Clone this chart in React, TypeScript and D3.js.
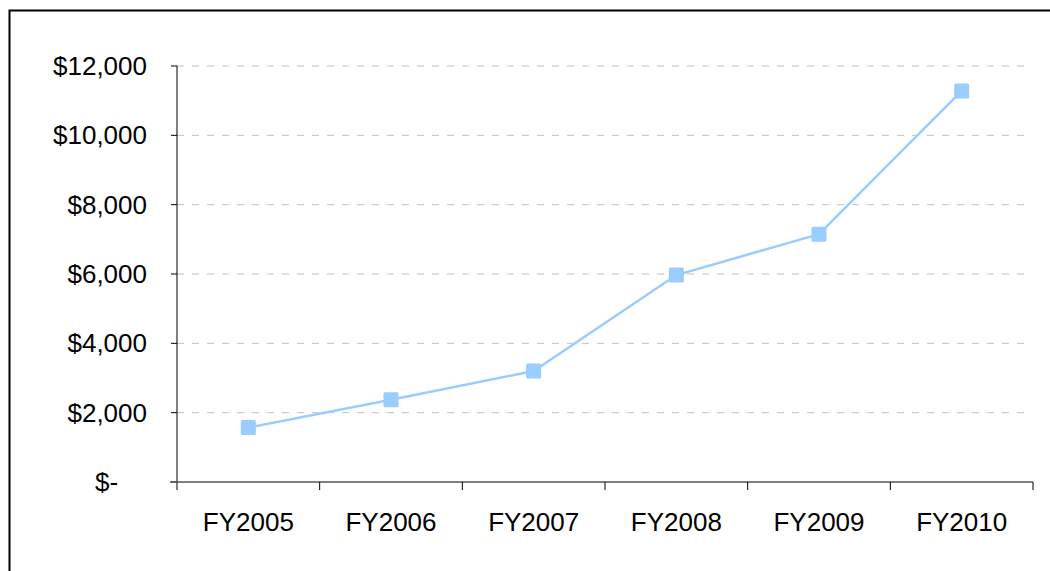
import React from "react";
import * as d3 from "d3";

const categories = ["FY2005", "FY2006", "FY2007", "FY2008", "FY2009", "FY2010"];
const values = [1570, 2370, 3200, 5970, 7150, 11280];
const yTicks = [0, 2000, 4000, 6000, 8000, 10000, 12000];

const W = 1050;
const H = 571;
const M = { left: 177, right: 1033, top: 66, bottom: 482 };
const FONT = "'Liberation Sans', Arial, sans-serif";
const FS = 26;

export default function App() {
  const x = d3.scaleBand<string>().domain(categories).range([M.left, M.right]).padding(0);
  const y = d3.scaleLinear().domain([0, 12000]).range([M.bottom, M.top]);
  const fmt = (v: number) => (v === 0 ? "$-" : "$" + d3.format(",")(v));
  const cx = (c: string) => (x(c) as number) + x.bandwidth() / 2;
  const line = d3
    .line<number>()
    .x((_, i) => cx(categories[i]))
    .y((d) => y(d));
  const ms = 15;

  return (
    <svg width={W} height={H} style={{ position: "absolute", left: 0, top: 0, background: "#fff" }}>
      <rect x={9.5} y={10.5} width={W + 20} height={H + 20} fill="#fff" stroke="#000" strokeWidth={2} />
      {yTicks.slice(1).map((t) => (
        <line key={"g" + t} x1={M.left} x2={1030} y1={y(t)} y2={y(t)} stroke="#c0c0c0" strokeWidth={1} strokeDasharray="7,8" />
      ))}
      {/* y axis */}
      <line x1={M.left} x2={M.left} y1={M.top} y2={M.bottom + 8} stroke="#000" strokeWidth={1} />
      {yTicks.map((t) => (
        <g key={"yt" + t}>
          <line x1={M.left - 6} x2={M.left} y1={y(t)} y2={y(t)} stroke="#000" strokeWidth={1} />
          <text
            x={t === 0 ? 147 - 2 * 0.556 * FS : 147}
            y={y(t)}
            dy="0.35em"
            textAnchor="end"
            fontFamily={FONT}
            fontSize={FS}
            fill="#000"
          >
            {fmt(t)}
          </text>
        </g>
      ))}
      {/* x axis */}
      <line x1={M.left - 7} x2={M.right} y1={M.bottom} y2={M.bottom} stroke="#555" strokeWidth={1.5} />
      {categories.map((c) => (
        <line key={"xt" + c} x1={(x(c) as number) + x.bandwidth()} x2={(x(c) as number) + x.bandwidth()} y1={M.bottom} y2={M.bottom + 8} stroke="#000" strokeWidth={1} />
      ))}
      {categories.map((c) => (
        <text key={"xl" + c} x={cx(c)} y={521.5} dy="0.35em" textAnchor="middle" fontFamily={FONT} fontSize={FS} fill="#000">
          {c}
        </text>
      ))}
      <path d={line(values) || ""} fill="none" stroke="#99ccff" strokeWidth={2.5} />
      {values.map((v, i) => (
        <rect
          key={"m" + i}
          x={cx(categories[i]) - ms / 2}
          y={y(v) - ms / 2}
          width={ms}
          height={ms}
          rx={1.5}
          fill="#99ccff"
        />
      ))}
    </svg>
  );
}
